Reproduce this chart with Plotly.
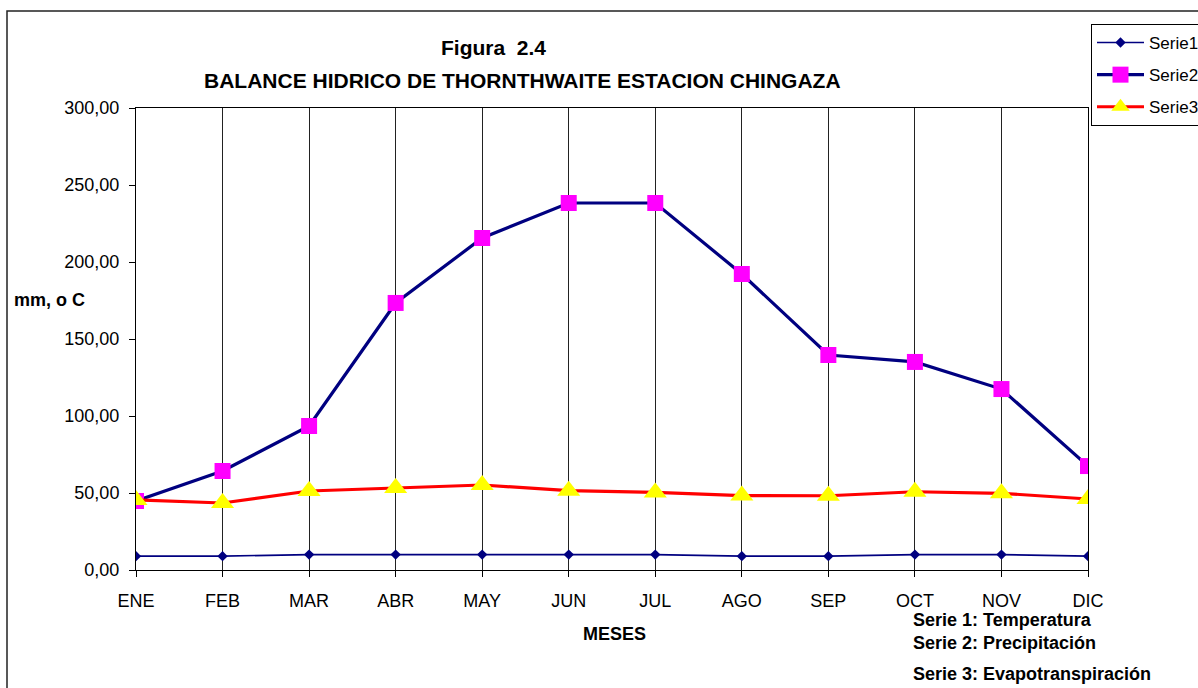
import plotly.graph_objects as go

# ---- data ----
months = ["ENE", "FEB", "MAR", "ABR", "MAY", "JUN", "JUL", "AGO", "SEP", "OCT", "NOV", "DIC"]
serie1_temperatura = [9.0, 9.0, 10.0, 10.0, 10.0, 10.0, 10.0, 9.0, 9.0, 10.0, 10.0, 9.0]
serie2_precipitacion = [44.8, 64.3, 93.5, 173.4, 215.6, 238.3, 238.3, 192.2, 139.6, 135.1, 117.5, 67.5]
serie3_evapotranspiracion = [45.5, 43.5, 51.3, 53.2, 55.2, 51.5, 50.4, 48.3, 48.2, 50.8, 49.8, 46.1]
y_ticks = [0, 50, 100, 150, 200, 250, 300]

W, H = 1198, 688
L, R, T, B = 136, 1088, 108, 570  # plot area in pixels

def px(x):
    return (x - L) / (R - L)

def py(y):
    return (B - y) / (B - T)

FONT = "Liberation Sans, Arial, sans-serif"
xs = list(range(len(months)))

fig = go.Figure()
fig.add_trace(go.Scatter(
    x=xs, y=serie1_temperatura, name="Serie1", mode="lines+markers",
    line=dict(color="#000080", width=1.6),
    marker=dict(symbol="diamond", size=8, color="#000080"),
    legendgroup="a",
))
fig.add_trace(go.Scatter(
    x=xs, y=serie2_precipitacion, name="Serie2", mode="lines+markers",
    line=dict(color="#000080", width=3.2),
    marker=dict(symbol="square", size=16, color="#FF00FF"),
    legendgroup="b",
))
fig.add_trace(go.Scatter(
    x=xs, y=serie3_evapotranspiracion, name="Serie3", mode="lines+markers",
    line=dict(color="#FF0000", width=3.2),
    marker=dict(symbol="triangle-up", size=20, color="#FFFF00"),
    legendgroup="c",
))

fig.update_layout(
    width=W, height=H,
    margin=dict(l=L, r=W - R, t=T, b=H - B, autoexpand=False),
    paper_bgcolor="white", plot_bgcolor="white",
    font=dict(family=FONT, size=18, color="black"),
    separators=",.",
    showlegend=True,
    legend=dict(
        x=px(1091), y=py(24), xanchor="left", yanchor="top",
        bgcolor="white", bordercolor="black", borderwidth=1,
        font=dict(family=FONT, size=17, color="black"),
        itemwidth=47, tracegroupgap=7, traceorder="grouped",
    ),
    xaxis=dict(
        range=[0, 11], tickmode="array", tickvals=xs, ticktext=months,
        showgrid=True, gridcolor="#222222", gridwidth=1,
        showline=True, linecolor="black", linewidth=1, mirror=True,
        ticks="outside", ticklen=6, tickcolor="black",
        ticklabelstandoff=8, zeroline=False,
        tickfont=dict(family=FONT, size=18, color="black"),
    ),
    yaxis=dict(
        range=[0, 300], tickmode="array", tickvals=y_ticks, tickformat=".2f",
        showgrid=False, showline=True, linecolor="black", linewidth=1, mirror=True,
        ticks="outside", ticklen=6, tickcolor="black",
        ticklabelstandoff=6, zeroline=False,
        tickfont=dict(family=FONT, size=18, color="black"),
    ),
    yaxis2=dict(
        range=[0, 300], tickmode="array", tickvals=y_ticks, overlaying="y", side="left",
        showgrid=False, showline=False, ticks="inside", ticklen=6, tickcolor="black",
        showticklabels=False, zeroline=False,
    ),
)

# outer chart border (extends beyond the canvas)
fig.add_shape(type="rect", xref="paper", yref="paper",
              x0=px(7), y0=py(11), x1=px(1240), y1=py(720),
              line=dict(color="#222222", width=1.5), fillcolor="rgba(0,0,0,0)", layer="below")

ann = [
    dict(text="<b>Figura\u00a0 2.4</b>", x=px(493), y=py(48), xanchor="center", yanchor="middle", size=21),
    dict(text="<b>BALANCE HIDRICO DE THORNTHWAITE ESTACION CHINGAZA</b>", x=px(522), y=py(80), xanchor="center", yanchor="middle", size=21),
    dict(text="<b>mm, o C</b>", x=px(12), y=py(300), xanchor="left", yanchor="middle", size=18),
    dict(text="<b>MESES</b>", x=px(614), y=py(634), xanchor="center", yanchor="middle", size=18),
    dict(text="<b>Serie 1: Temperatura</b>", x=px(911), y=py(620), xanchor="left", yanchor="middle", size=18),
    dict(text="<b>Serie 2: Precipitación</b>", x=px(911), y=py(643), xanchor="left", yanchor="middle", size=18),
    dict(text="<b>Serie 3: Evapotranspiración</b>", x=px(911), y=py(674), xanchor="left", yanchor="middle", size=18),
]
for a in ann:
    fig.add_annotation(text=a["text"], x=a["x"], y=a["y"], xref="paper", yref="paper",
                       xanchor=a["xanchor"], yanchor=a["yanchor"], showarrow=False,
                       font=dict(family=FONT, size=a["size"], color="black"))

fig.write_html("out.html", config={"displayModeBar": False},
               post_script="document.body.style.margin='0';document.body.style.overflow='hidden';")
